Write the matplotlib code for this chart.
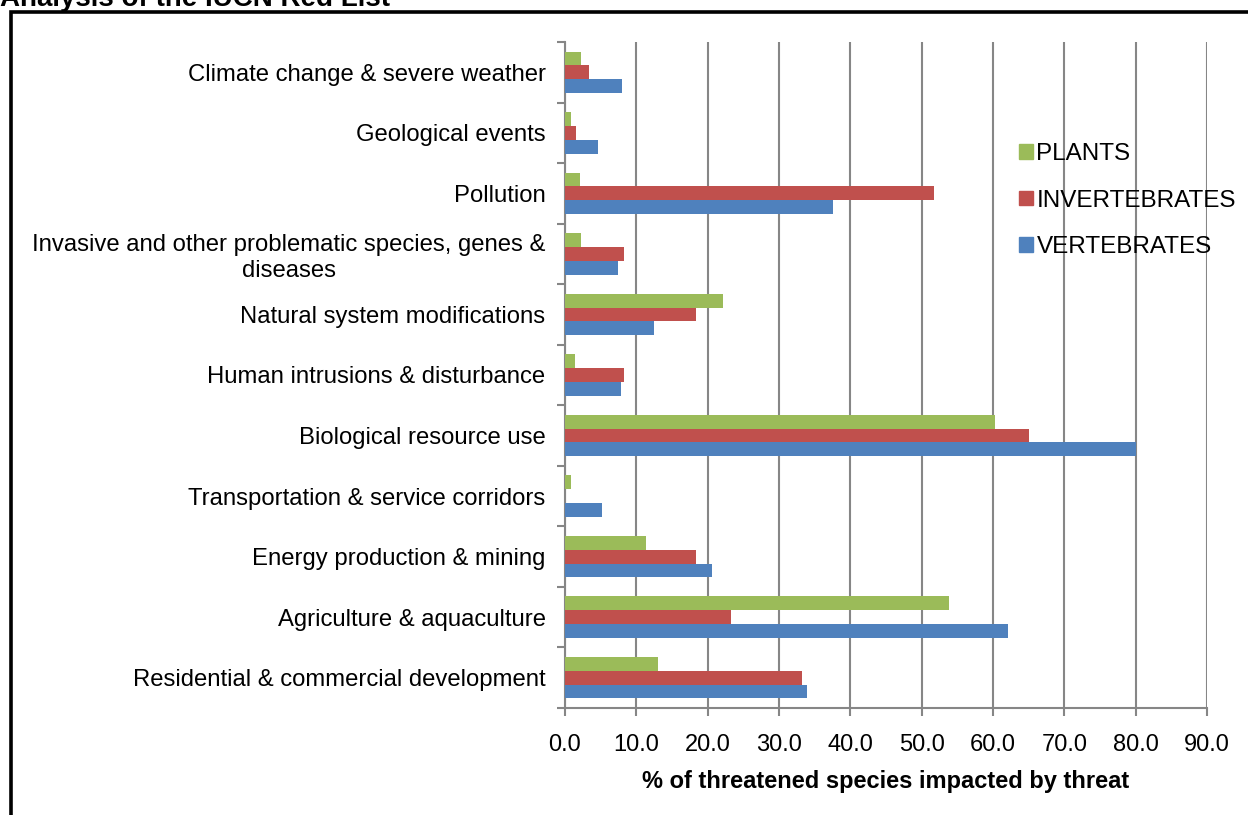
import matplotlib.pyplot as plt
import matplotlib.patches as mpatches
import numpy as np

plt.rcParams['font.family'] = ['Liberation Sans', 'DejaVu Sans']

# categories from bottom to top
threats = ["Residential & commercial development",
           "Agriculture & aquaculture",
           "Energy production & mining",
           "Transportation & service corridors",
           "Biological resource use",
           "Human intrusions & disturbance",
           "Natural system modifications",
           "Invasive and other problematic species, genes &\ndiseases",
           "Pollution",
           "Geological events",
           "Climate change & severe weather"]

vertebrates = [33.9, 62.1, 20.6, 5.2, 80.1, 7.9, 12.5, 7.5, 37.6, 4.7, 8.0]
invertebrates = [33.3, 23.3, 18.4, 0.0, 65.0, 8.3, 18.3, 8.3, 51.7, 1.6, 3.4]
plants = [13.1, 53.8, 11.3, 0.9, 60.3, 1.4, 22.2, 2.3, 2.1, 0.9, 2.3]

xticks = [0, 10, 20, 30, 40, 50, 60, 70, 80, 90]

green = "#9BBB59"
red = "#C0504D"
blue = "#4F81BD"
grey = "#868686"

fig = plt.figure(figsize=(12.48, 8.15), dpi=100)
ax = fig.add_axes([0.4527, 0.1313, 0.5144, 0.8172])

y = np.arange(len(threats))
h = 0.228
ax.barh(y - h, vertebrates, height=h, color=blue, label="VERTEBRATES", zorder=3)
ax.barh(y, invertebrates, height=h, color=red, label="INVERTEBRATES", zorder=3)
ax.barh(y + h, plants, height=h, color=green, label="PLANTS", zorder=3)

ax.set_xlim(0, 90)
ax.set_ylim(-0.5, len(threats) - 0.5)
ax.set_xticks(xticks)
ax.set_xticklabels(["%.1f" % v for v in xticks], fontsize=17)
ax.xaxis.grid(True, color=grey, linewidth=1.5)
ax.set_axisbelow(True)

# labels centred in groups, ticks at group boundaries
ax.set_yticks(np.arange(-0.5, len(threats), 1.0))
ax.set_yticklabels([])
ax.set_yticks(y, minor=True)
ax.set_yticklabels(threats, minor=True, fontsize=17.2, multialignment="center")
ax.tick_params(axis="y", which="minor", length=0, pad=14)
ax.tick_params(axis="y", which="major", length=6, width=1.5, color=grey)
ax.tick_params(axis="x", length=6, width=1.5, color=grey, pad=13)

for s in ["top", "right"]:
    ax.spines[s].set_visible(False)
for s in ["left", "bottom"]:
    ax.spines[s].set_color(grey)
    ax.spines[s].set_linewidth(1.5)

ax.set_xlabel("% of threatened species impacted by threat", fontsize=17,
              fontweight="bold", labelpad=10)

handles = [mpatches.Patch(color=green), mpatches.Patch(color=red), mpatches.Patch(color=blue)]
ax.legend(handles, ["PLANTS", "INVERTEBRATES", "VERTEBRATES"], frameon=False,
          fontsize=17.5, loc="upper left", bbox_to_anchor=(0.708, 0.848),
          bbox_transform=ax.transAxes, handlelength=0.55, handleheight=0.55,
          handletextpad=0.15, labelspacing=1.0, borderaxespad=0, borderpad=0)

# outer border and clipped title
fig.patches.append(mpatches.Rectangle((11 / 1248, -0.01), 1.0, 1 - 11.5 / 815 + 0.01,
                                      transform=fig.transFigure, fill=False,
                                      edgecolor="black", linewidth=2.6, clip_on=False))
fig.text(0.0, 1 - 6 / 815, "Analysis of the IUCN Red List", fontsize=20,
         fontweight="bold", ha="left", va="baseline")

fig.savefig("out.png", dpi=100)
